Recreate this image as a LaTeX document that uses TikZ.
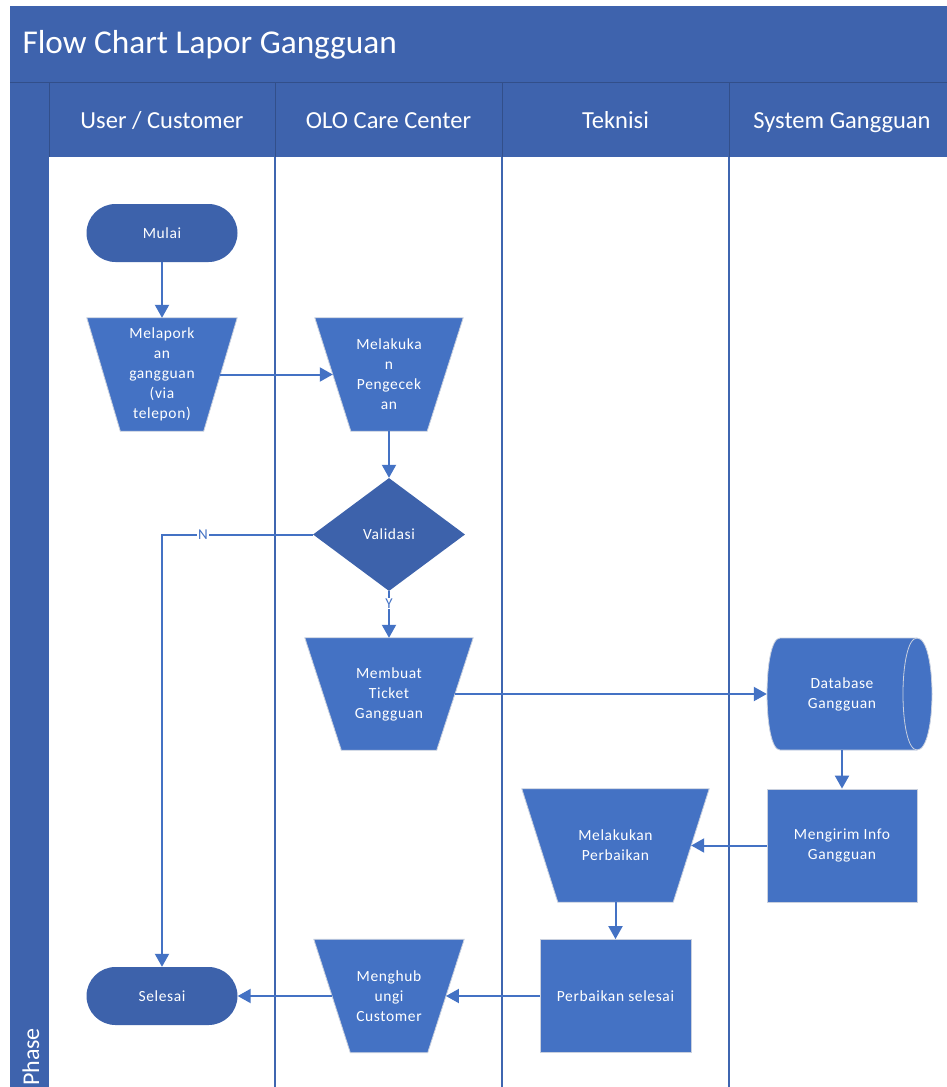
\documentclass[tikz,border=0pt]{standalone}
\usepackage{fontspec}
\setmainfont{Carlito}
\usetikzlibrary{arrows.meta,shapes.geometric,calc}
\definecolor{hdr}{HTML}{3E63AD}
\definecolor{term}{HTML}{3D62AB}
\definecolor{proc}{HTML}{4472C4}
\definecolor{edgec}{HTML}{4472C4}
\definecolor{lanec}{HTML}{3F66B0}
\definecolor{rim}{HTML}{C9D0DE}
\pgfdeclarelayer{back}
\pgfdeclarelayer{mid}
\pgfsetlayers{back,mid,main}
\begin{document}
\begin{tikzpicture}[x=1pt,y=-1pt,
  txt/.style={text=white, font=\fontsize{15.5}{20}\selectfont\addfontfeatures{LetterSpace=4}, align=center, inner sep=0pt},
  terminal/.style={txt, fill=term, rounded corners=29pt, minimum width=151pt, minimum height=58pt},
  trapbox/.style={txt, minimum height=113pt},
  boxnode/.style={txt, fill=proc, draw=rim, line width=0.8pt, minimum width=150pt, minimum height=113pt},
  decision/.style={txt, diamond, fill=term, minimum width=152pt, minimum height=113pt},
  arr/.style={draw=edgec, line width=2pt, -{Triangle[length=13pt,width=14pt]}},
  lbl/.style={fill=white, text=edgec, font=\fontsize{15}{15}\selectfont, inner sep=1pt},
  lanehead/.style={text=white, anchor=base, font=\fontsize{24.5}{29}\selectfont},
  trapfill/.style={fill=proc, draw=rim, line width=0.8pt},
]
\useasboundingbox (0,0) rectangle (947,1087);
\begin{pgfonlayer}{back}
  \fill[white] (0,0) rectangle (947,1087);
  \fill[hdr] (10,6) rectangle (947,82);
  \fill[hdr] (10,82) rectangle (947,157);
  \fill[hdr] (10,82) rectangle (49,1087);
  \draw[hdr!80!black, line width=0.6pt] (10,82) -- (947,82);
  \foreach \lx in {49,275,502,729} {
    \draw[hdr!80!black, line width=0.6pt] (\lx,82) -- (\lx,157);
  }
  \foreach \lx in {275,502,729} {
    \draw[lanec, line width=1.1pt] (\lx,157) -- (\lx,1087);
  }
\end{pgfonlayer}

\node[anchor=base west, text=white, font=\fontsize{33.3}{39}\selectfont] (title) at (19,53.5) {Flow Chart Lapor Gangguan};
\node[lanehead] (h1) at (162,128) {User / Customer};
\node[lanehead] (h2) at (388.5,128) {OLO Care Center};
\node[lanehead] (h3) at (615.5,128) {Teknisi};
\node[lanehead] (h4) at (842,128) {System Gangguan};
\node[rotate=90, text=white, font=\fontsize{24}{29}\selectfont] (phase) at (31,1057) {Phase};

\node[terminal] (mulai) at (162,233) {Mulai};
\node[trapbox, minimum width=116.5pt] (lapor) at (162,374.5) {Melapork\\an\\gangguan\\(via\\telepon)};
\node[trapbox, minimum width=112pt] (cek) at (389,374.5) {Melakuka\\n\\Pengecek\\an};
\node[decision] (valid) at (389,534.5) {Validasi};
\node[trapbox, minimum width=131.5pt, minimum height=112pt] (tiket) at (389,694) {Membuat\\Ticket\\Gangguan};
\node[txt, minimum width=150pt, minimum height=112pt] (db) at (842,694) {Database\\Gangguan};
\node[boxnode] (kirim) at (842,845.5) {Mengirim Info\\Gangguan};
\node[trapbox, minimum width=151pt] (perb) at (615.5,845.5) {Melakukan\\Perbaikan};
\node[boxnode, minimum width=151pt] (fixed) at (615.5,996) {Perbaikan selesai};
\node[trapbox, minimum width=113.5pt] (hub) at (389,996) {Menghub\\ungi\\Customer};
\node[terminal] (selesai) at (162,996) {Selesai};

\begin{pgfonlayer}{mid}
  \foreach \nm/\dd in {lapor/16.75, cek/18, tiket/18.25, perb/18, hub/18.25} {
    \path[trapfill] ($(\nm.north west)+(-\dd,0)$) -- ($(\nm.north east)+(\dd,0)$)
      -- ($(\nm.south east)+(-\dd,0)$) -- ($(\nm.south west)+(\dd,0)$) -- cycle;
  }
  \path[trapfill] ($(db.center)+(-62,-56)$) -- ($(db.center)+(75,-56)$)
    .. controls ($(db.center)+(95,-56)$) and ($(db.center)+(95,56)$) .. ($(db.center)+(75,56)$)
    -- ($(db.center)+(-62,56)$)
    .. controls ($(db.center)+(-79.3,56)$) and ($(db.center)+(-79.3,-56)$) .. cycle;
  \draw[rim, line width=0.8pt] ($(db.center)+(75,-56)$)
    .. controls ($(db.center)+(56.3,-56)$) and ($(db.center)+(56.3,56)$) .. ($(db.center)+(75,56)$);
\end{pgfonlayer}

\draw[arr] (mulai) -- (lapor);
\draw[arr] (lapor.east) -- (cek.west);
\draw[arr] (cek) -- (valid);
\draw[arr] (valid.west) -| node[lbl, pos=0.364] {N} (selesai.north);
\draw[arr] (valid.south) -- node[lbl, pos=0.26] {Y} (tiket.north);
\draw[arr] (tiket.east) -- (db.west);
\draw[arr] (db.south) -- (kirim.north);
\draw[arr] (kirim.west) -- (perb.east);
\draw[arr] (perb.south) -- (fixed.north);
\draw[arr] (fixed.west) -- (hub.east);
\draw[arr] (hub.west) -- (selesai.east);
\end{tikzpicture}
\end{document}
